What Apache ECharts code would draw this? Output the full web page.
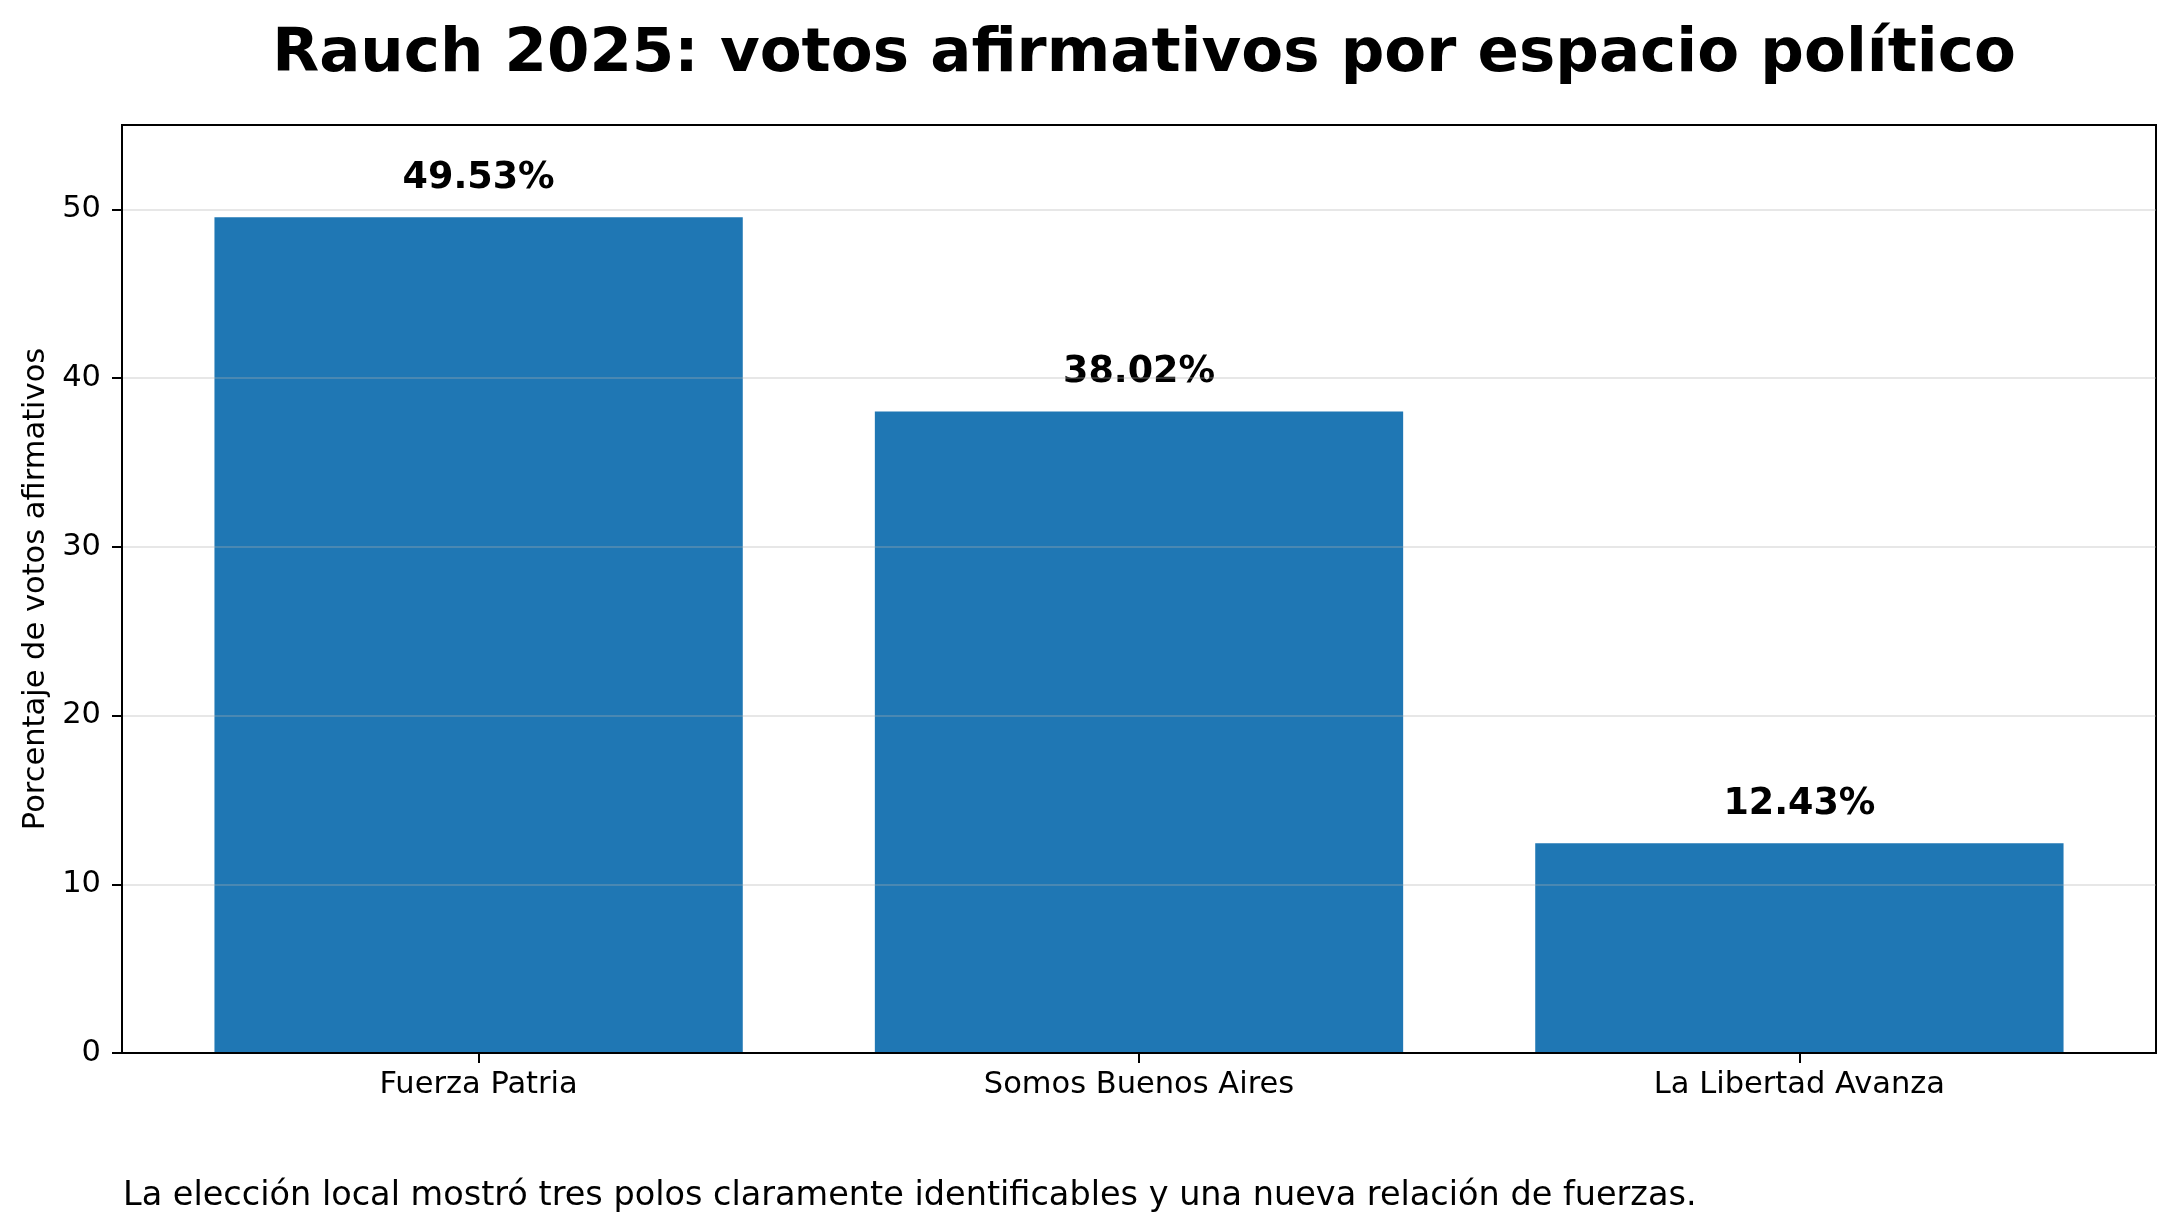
<!DOCTYPE html>
<html>
<head>
<meta charset="utf-8">
<title>Rauch 2025</title>
<script src="https://cdn.jsdelivr.net/npm/echarts@6/dist/echarts.min.js"></script>
<style>
  html, body { margin: 0; padding: 0; background: #fff; }
  #main { width: 2178px; height: 1232px; }
</style>
</head>
<body>
<div id="main"></div>
<script>
var categories = ['Fuerza Patria', 'Somos Buenos Aires', 'La Libertad Avanza'];
var votos = [49.53, 38.02, 12.43];
var yTicks = [0, 10, 20, 30, 40, 50];
var xTicks = [0, 1, 2];

var font = 'DejaVu Sans';
var gridLeft = 122, gridRight = 22;
var plotWidth = 2178 - gridLeft - gridRight;
var xMin = -0.54, xMax = 2.54;

var barData = [];
for (var i = 0; i < votos.length; i++) {
	barData.push([i, votos[i]]);
}

var myChart = echarts.init(document.getElementById('main'));

var option = {
	backgroundColor: '#fff',
	animation: false,
	title: [{
		text: 'Rauch 2025: votos afirmativos por espacio político',
		left: gridLeft + plotWidth / 2,
		textAlign: 'center',
		top: 20,
		textStyle: {
			fontFamily: font,
			fontSize: 61,
			fontWeight: 'bold',
			color: '#000'
		}
	}, {
		// nota al pie
		text: 'La elección local mostró tres polos claramente identificables y una nueva relación de fuerzas.',
		left: 118,
		top: 1174,
		textStyle: {
			fontFamily: font,
			fontSize: 33.5,
			fontWeight: 'normal',
			color: '#000'
		}
	}],
	grid: {
		left: gridLeft,
		right: gridRight,
		top: 125,
		bottom: 179,
		show: true,
		borderColor: '#000',
		borderWidth: 2
	},
	xAxis: {
		type: 'value',
		min: xMin,
		max: xMax,
		z: 3,
		axisLine: { show: true, onZero: false, lineStyle: { color: '#000', width: 2 } },
		axisTick: {
			show: true,
			customValues: xTicks,
			length: 10,
			lineStyle: { color: '#000', width: 2 }
		},
		axisLabel: {
			customValues: xTicks,
			margin: 17,
			fontFamily: font,
			fontSize: 30.5,
			color: '#000',
			formatter: function(v) {
				return categories[Math.round(v)];
			}
		},
		splitLine: { show: false }
	},
	yAxis: {
		type: 'value',
		min: 0,
		max: 55,
		interval: 10,
		z: 3,
		name: 'Porcentaje de votos afirmativos',
		nameLocation: 'middle',
		nameRotate: 90,
		nameGap: 70,
		nameTextStyle: {
			fontFamily: font,
			fontSize: 30.5,
			color: '#000'
		},
		axisLine: { show: true, onZero: false, lineStyle: { color: '#000', width: 2 } },
		axisTick: {
			show: true,
			customValues: yTicks,
			length: 10,
			lineStyle: { color: '#000', width: 2 }
		},
		axisLabel: {
			customValues: yTicks,
			margin: 21,
			fontFamily: font,
			fontSize: 30.5,
			color: '#000'
		},
		splitLine: {
			show: true,
			lineStyle: { color: 'rgba(176,176,176,0.3)', width: 2 }
		}
	},
	series: [{
		type: 'bar',
		data: barData,
		barWidth: plotWidth * 0.8 / (xMax - xMin),
		itemStyle: { color: '#1f77b4' },
		label: {
			show: true,
			position: 'top',
			distance: 20,
			fontFamily: font,
			fontSize: 36.5,
			fontWeight: 'bold',
			color: '#000',
			formatter: function(p) {
				return p.value[1].toFixed(2) + '%';
			}
		}
	}]
};

myChart.setOption(option);

window.addEventListener('resize', function() {
	myChart.resize();
});
</script>
</body>
</html>
